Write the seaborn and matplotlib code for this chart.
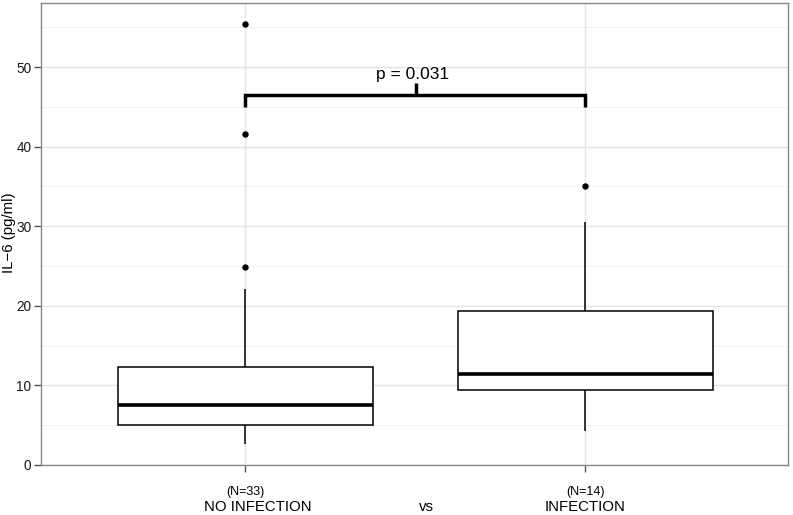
import numpy as np
import pandas as pd
import matplotlib
matplotlib.use("Agg")
import matplotlib.pyplot as plt
import seaborn as sns

# ---- data ----
groups = ["NO INFECTION", "INFECTION"]
counts = ["(N=33)", "(N=14)"]
whisker_low = [2.65, 4.25]
q1 = [5.05, 9.37]
median = [7.48, 11.42]
q3 = [12.30, 19.36]
whisker_high = [22.18, 30.57]
outliers_no_inf = [24.9, 41.6, 55.4]
outliers_inf = [35.06]
p_label = "p = 0.031"
y_ticks = [0, 10, 20, 30, 40, 50]

sns.set_theme(style="white")
plt.rcParams["font.family"] = ["Liberation Sans", "DejaVu Sans"]

# five-number summary rows -> seaborn computes the same box from them
rows = []
for i, g in enumerate(groups):
    for v in (whisker_low[i], q1[i], median[i], q3[i], whisker_high[i]):
        rows.append({"group": g, "value": v})
box_df = pd.DataFrame(rows)
out_df = pd.DataFrame(
    [{"group": groups[0], "value": v} for v in outliers_no_inf]
    + [{"group": groups[1], "value": v} for v in outliers_inf]
)

fig = plt.figure(figsize=(7.93, 5.15), dpi=100)
ax = fig.add_axes([41 / 793, 50 / 515, 747 / 793, 462 / 515])

# grid
for y in np.arange(5, 60, 10):
    ax.axhline(y, color="#f0f0f0", lw=0.6, zorder=0)
for y in y_ticks:
    ax.axhline(y, color="#e4e4e4", lw=1.0, zorder=0)
for x in range(len(groups)):
    ax.axvline(x, color="#e4e4e4", lw=1.0, zorder=0)

sns.boxplot(
    data=box_df, x="group", y="value", order=groups, ax=ax,
    whis=np.inf, width=0.75, color="white", linecolor="black",
    linewidth=1.1, showcaps=False, fill=True,
    medianprops={"linewidth": 2.6, "color": "black"},
    boxprops={"facecolor": "white", "edgecolor": "black", "zorder": 2},
    whiskerprops={"color": "black"},
)
sns.stripplot(
    data=out_df, x="group", y="value", order=groups, ax=ax,
    jitter=False, color="black", size=4.6, linewidth=0, zorder=3,
)

# significance bracket
yb, yl, yt = 46.45, 45.05, 48.0
ax.plot([0, 0, 1, 1], [yl, yb, yb, yl], color="black", lw=2.5,
        solid_joinstyle="miter", solid_capstyle="butt", zorder=4)
ax.plot([0.502, 0.502], [yb, yt], color="black", lw=2.5,
        solid_capstyle="butt", zorder=4)
ax.text(0.494, 48.55, p_label, ha="center", va="baseline", fontsize=12.5,
        color="black")

ax.set_xlim(-0.6, 1.597)
ax.set_ylim(0, 58.06)
ax.set_yticks(y_ticks)
ax.set_yticklabels([str(t) for t in y_ticks], fontsize=9.8, color="#1a1a1a")
ax.set_xticks([0, 1])
ax.set_xticklabels(["", ""])
ax.tick_params(axis="both", direction="out", length=5, width=1,
               color="#555555", left=True, bottom=True, pad=2)
ax.set_xlabel("")
ax.set_ylabel("")
for s in ax.spines.values():
    s.set_visible(True)
    s.set_color("#888888")
    s.set_linewidth(1.0)

fig.text(9 / 793, 1 - 233 / 515, "IL\u22126 (pg/ml)", rotation=90,
         ha="center", va="center", fontsize=10.8, color="black")

# category labels
tr = ax.get_xaxis_transform()
for i, c in enumerate(counts):
    ax.annotate(c, xy=(i, 0), xycoords=tr, xytext=(0, -27),
                textcoords="offset pixels", ha="center", va="center",
                fontsize=9, color="black", annotation_clip=False)
name_x = [0.038, 1.0]
for i, g in enumerate(groups):
    ax.annotate(g, xy=(name_x[i], 0), xycoords=tr, xytext=(0, -46),
                textcoords="offset pixels", ha="center", va="baseline",
                fontsize=10.8, color="black", annotation_clip=False)
ax.annotate("vs", xy=(0.535, 0), xycoords=tr, xytext=(0, -46),
            textcoords="offset pixels", ha="center", va="baseline",
            fontsize=10.8, color="black", annotation_clip=False)

fig.savefig("out.png", dpi=100, facecolor="white")
